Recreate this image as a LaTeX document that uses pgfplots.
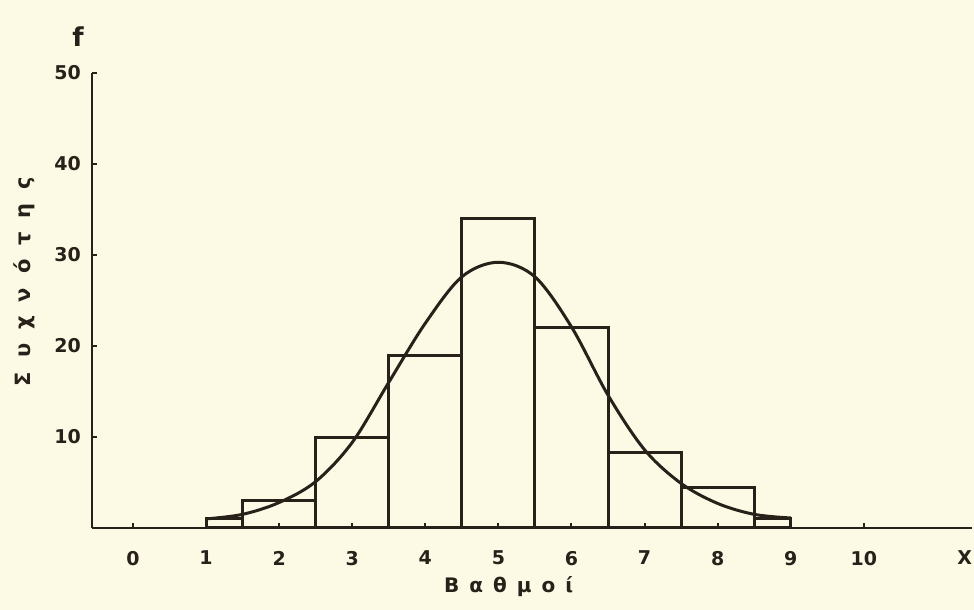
\documentclass[border=0pt]{standalone}
\usepackage{fontspec}
\setmainfont{DejaVu Sans}
\usepackage{pgfplots}
\pgfplotsset{compat=1.18}
\definecolor{paper}{RGB}{252,250,229}
\definecolor{ink}{RGB}{40,33,26}
\newcommand\gp[1]{\hspace{#1}}

\begin{document}
\begin{tikzpicture}
\path[use as bounding box, fill=paper] (-46pt,-41pt) rectangle (441pt,264pt);
\begin{axis}[
  at={(0,0)}, anchor=south west,
  scale only axis, width=440pt, height=227.5pt,
  xmin=-0.56, xmax=11.48, ymin=0, ymax=50,
  axis x line*=bottom, axis y line*=left,
  axis line style={ink, line width=1.4pt},
  tick align=inside, major tick length=2.5pt,
  tick style={ink, line width=1pt},
  xtick={0,...,10}, ytick={10,20,30,40,50},
  /pgf/number format/assume math mode=true,
  tick label style={font=\fontsize{9.5}{12}\selectfont\bfseries, text=ink},
  xticklabel style={yshift=-8pt},
  yticklabel style={xshift=-2pt},
  clip=false,
]
% histogram of the grades (class edges at the half units)
\addplot[ybar interval, draw=ink, fill=none, line width=1.5pt] coordinates {
  (1,1) (1.5,3) (2.5,10) (3.5,19) (4.5,34) (5.5,22) (6.5,8.3) (7.5,4.4) (8.5,1) (9,1)
};
% fitted frequency curve
\addplot[ink, line width=1.5pt, smooth, tension=0.55] coordinates {
  (1.0,1.0) (1.5,1.5) (2.0,2.8) (2.5,5.1) (3.0,9.4) (3.5,16.0) (4.0,22.5)
  (4.5,27.6) (5.0,29.2) (5.5,27.6) (6.0,22.1) (6.5,14.6) (7.0,8.6)
  (7.5,4.9) (8.0,2.7) (8.5,1.5) (9.0,1.1)
};
\node[text=ink, font=\fontsize{13}{15}\selectfont\bfseries] at (axis cs:-0.75,54) {f};
\node[text=ink, font=\fontsize{9.5}{12}\selectfont\bfseries, anchor=north, yshift=-8pt] at (axis cs:11.38,0) {X};
\node[text=ink, font=\fontsize{10}{12}\selectfont\bfseries] at (axis cs:5.14,-6.4)
  {Β\gp{5pt}α\gp{5pt}θ\gp{5pt}μ\gp{5pt}ο\gp{5pt}ί};
\node[text=ink, font=\fontsize{10.5}{13}\selectfont\bfseries, rotate=90] at (axis cs:-1.48,27.1)
  {Σ\gp{7pt}υ\gp{7pt}χ\gp{7pt}ν\gp{7pt}ό\gp{7pt}τ\gp{7pt}η\gp{7pt}ς};
\end{axis}
\end{tikzpicture}
\end{document}
